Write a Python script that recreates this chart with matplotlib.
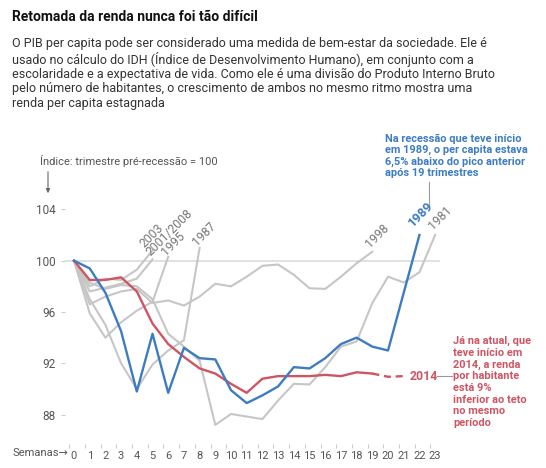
import numpy as np
import matplotlib
matplotlib.use("Agg")
import matplotlib.pyplot as plt

plt.rcParams["font.family"] = ["Roboto", "DejaVu Sans"]

# index per recession (pre-recession quarter = 100), one value per quarter
s1981 = [100, 98.3, 97.8, 98.1, 98.0, 97.0, 94.3, 93.3, 92.2, 87.2, 88.05, 87.85,
         87.65, 89.1, 90.4, 90.35, 91.7, 93.3, 93.7, 96.7, 98.75, 98.3, 99.1, 102.0]
s1987 = [100, 97.0, 95.0, 92.0, 90.0, 91.9, 93.0, 93.8, 101.0]
s1995 = [100, 95.9, 94.0, 95.2, 96.1, 96.8, 100.3]
s1998 = [100, 96.6, 97.2, 97.6, 97.8, 96.7, 96.9, 96.5, 97.2, 98.2, 98.0, 98.75,
         99.6, 99.7, 98.9, 97.85, 97.8, 98.75, 99.8, 100.7]
s2001 = [100, 97.6, 97.9, 98.2, 98.6, 100.1]
s2003 = [100, 98.0, 98.6, 98.5, 99.3, 100.8]
s1989 = [100, 99.4, 97.5, 94.5, 89.8, 94.3, 89.7, 93.2, 92.4, 92.3, 89.9, 88.9,
         89.5, 90.2, 91.7, 91.6, 92.4, 93.5, 94.0, 93.3, 93.0, 97.5, 102.0]
s2014 = [100, 98.5, 98.5, 98.7, 97.6, 95.1, 93.5, 92.5, 91.6, 91.2, 90.4, 89.7,
         90.8, 91.0, 91.0, 91.0, 91.1, 91.0, 91.3, 91.2]
proj_weeks = [19, 20, 21]
s2014_proj = [91.2, 90.95, 91.0]

gray_series = [("2003", s2003), ("2001/2008", s2001), ("1995", s1995),
               ("1987", s1987), ("1998", s1998), ("1981", s1981)]
week_ticks = list(range(24))
y_ticks = [88, 92, 96, 100, 104]

GRAY = "#c6c6c6"
BLUE = "#3d7cc2"
RED = "#cf5563"
LABEL = "#777777"

fig = plt.figure(figsize=(5.46, 4.68), dpi=100)
ax = fig.add_axes([65 / 546, 1 - 444 / 468, 375 / 546, 244 / 468])
ax.set_xlim(-0.573, 23.31)
ax.set_ylim(85.71, 104.73)

ax.axhline(100, color="#d9d9d9", lw=1.1, zorder=1)

for name, vals in gray_series:
    ax.plot(range(len(vals)), vals, color=GRAY, lw=1.5, zorder=2)

ax.plot(range(len(s1989)), s1989, color=BLUE, lw=1.7, zorder=4)
ax.plot(range(len(s2014)), s2014, color=RED, lw=1.7, zorder=3)
ax.plot(proj_weeks, s2014_proj, color=RED, lw=1.7, ls=(0, (3, 2)), zorder=3)

# rotated year labels at the end of each line
offsets = {"2003": (-4, 0), "2001/2008": (0, 1), "1995": (0, -1),
           "1987": (0, 0), "1998": (0, 1), "1981": (0, 2)}
for name, vals in gray_series:
    ax.annotate(name, (len(vals) - 1, vals[-1]), xytext=offsets[name],
                textcoords="offset points", rotation=45, rotation_mode="anchor",
                ha="left", va="bottom", fontsize=8.8, color=LABEL, annotation_clip=False)

ax.annotate("1989", (len(s1989) - 1, s1989[-1]), xytext=(-3, 4),
            textcoords="offset points", rotation=45, rotation_mode="anchor",
            ha="left", va="bottom", fontsize=9.3, color=BLUE, fontweight="bold",
            annotation_clip=False)

# blue note
ax.plot([22.6, 22.6], [104.2, 106.1], color="#999999", lw=0.8, clip_on=False)
fig.text(385 / 546, 1 - 134 / 468,
         "Na recessão que teve início\nem 1989, o per capita estava\n"
         "6,5% abaixo do pico anterior\napós 19 trimestres",
         fontsize=7.9, color=BLUE, fontweight="bold", va="top", ha="left",
         linespacing=1.12)

# red note
ax.text(proj_weeks[-1] + 0.35, s2014_proj[-1], "2014", fontsize=8.8, color=RED,
        fontweight="bold", va="center", ha="left")
ax.plot([23.1, 24.1], [91.0, 91.0], color="#999999", lw=0.8, clip_on=False)
fig.text(453 / 546, 1 - 336 / 468,
         "Já na atual, que\nteve início em\n2014, a renda\npor habitante\n"
         "está 9%\ninferior ao teto\nno mesmo\nperíodo",
         fontsize=7.9, color=RED, fontweight="bold", va="top", ha="left",
         linespacing=1.2)

for s in ax.spines.values():
    s.set_visible(False)
ax.set_yticks(y_ticks)
ax.set_xticks(week_ticks)
ax.tick_params(axis="y", length=3, width=0.8, color="#cccccc", pad=4,
               labelsize=8.5, labelcolor="#555555")
ax.tick_params(axis="x", length=0, pad=5, labelsize=8, labelcolor="#555555")
ax.set_xticks([w - 0.3 for w in week_ticks], minor=True)
ax.tick_params(axis="x", which="minor", length=3, width=0.8, color="#cccccc")

fig.text(12 / 546, 1 - 453 / 468, "Semanas→", fontsize=8, color="#555555",
         va="center", ha="left")

fig.text(40 / 546, 1 - 161 / 468, "Índice: trimestre pré-recessão = 100",
         fontsize=8, color="#555555", va="center", ha="left")
ax.annotate("", xy=(48 / 546, 1 - 196 / 468), xytext=(48 / 546, 1 - 169 / 468),
            xycoords="figure fraction", textcoords="figure fraction",
            arrowprops=dict(arrowstyle="-|>", color="#666666", lw=0.8,
                            mutation_scale=6))

fig.text(12 / 546, 1 - 17 / 468, "Retomada da renda nunca foi tão difícil",
         fontsize=10, fontweight="bold", color="#111111", va="center", ha="left")
fig.text(12 / 546, 1 - 37 / 468,
         "O PIB per capita pode ser considerado uma medida de bem-estar da sociedade. Ele é\n"
         "usado no cálculo do IDH (Índice de Desenvolvimento Humano), em conjunto com a\n"
         "escolaridade e a expectativa de vida. Como ele é uma divisão do Produto Interno Bruto\n"
         "pelo número de habitantes, o crescimento de ambos no mesmo ritmo mostra uma\n"
         "renda per capita estagnada",
         fontsize=9.0, color="#333333", va="top", ha="left", linespacing=1.13)

fig.savefig("out.png", dpi=100)
